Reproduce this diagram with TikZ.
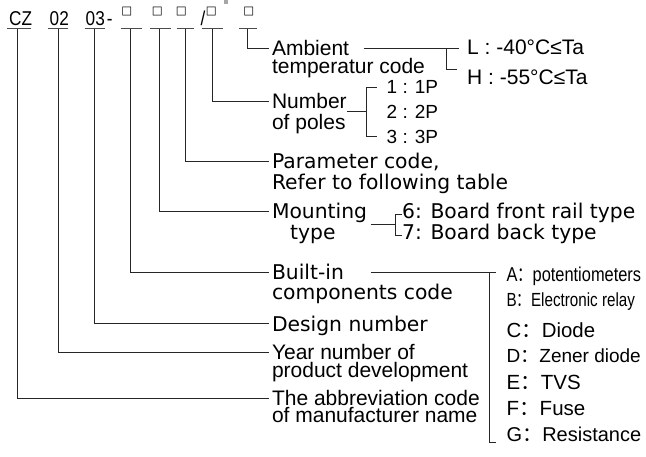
\documentclass[tikz,border=0pt]{standalone}
\usepackage{fontspec}
\usetikzlibrary{calc}
\setmainfont{Liberation Sans}
\newfontfamily\djv{DejaVu Sans}
\newfontfamily\narA[FakeStretch=0.82]{Liberation Sans}
\newfontfamily\narB[FakeStretch=0.80]{Liberation Sans}
\newfontfamily\codef[FakeStretch=0.86]{Liberation Sans}
\newfontfamily\cjk{Noto Sans CJK SC}
\newfontfamily\cjkn[FakeStretch=0.75]{Noto Sans CJK SC}
\tikzset{
  ln/.style={draw=black!85, line width=0.8bp},
  uline/.style={draw=black!70, line width=0.9bp},
  lblA/.style={font=\fontsize{21bp}{21bp}\selectfont, inner xsep=2.5bp, inner ysep=0pt,
    text height=15bp, text depth=0pt, anchor=base west},
  lblB/.style={font=\djv\fontsize{20.3bp}{20.3bp}\selectfont, inner xsep=2.5bp, inner ysep=0pt,
    text height=14.6bp, text depth=0pt, anchor=base west},
  pitem/.style={font=\fontsize{19bp}{19bp}\selectfont, inner sep=0pt,
    text height=13.6bp, text depth=0pt, anchor=base west},
  mitem/.style={font=\djv\fontsize{20.3bp}{20.3bp}\selectfont, inner sep=0pt,
    text height=9bp, text depth=0pt, anchor=base west},
  litem/.style={inner sep=0pt, text height=14bp, text depth=0pt, anchor=base west},
  codetxt/.style={font=\codef\fontsize{20bp}{20bp}\selectfont, inner sep=0pt, anchor=base west},
  sq/.style={font=\djv\fontsize{11.5bp}{11.5bp}\selectfont, inner sep=0pt, anchor=center},
}
\begin{document}
\begin{tikzpicture}[x=1bp,y=-1bp]
\useasboundingbox (0,0) rectangle (646,457);
\fill[gray!70] (224,0) rectangle (228,4.5);

% code row
\node[codetxt] (cz) at (9,26) {CZ};
\node[codetxt] (n02) at (49.5,26) {02};
\node[codetxt] (n03) at (85.5,26) {03\kern2bp-};
\node[sq] (s1) at (126.8,12) {□};
\node[sq] (s2) at (157.2,12) {□};
\node[sq] (s3) at (181.4,12) {□};
\node[codetxt] (sl) at (200.5,26) {/};
\node[sq] (s4) at (211.2,12) {□};
\node[sq] (s5) at (248.8,12) {□};

% underlines and stem tops
\draw[uline] (7,28.7) -- (30.7,28.7);
\draw[uline] (47.7,28.7) -- (68.3,28.7);
\draw[uline] (84.7,28.7) -- (105.3,28.7);
\draw[uline] (120.7,28.7) -- (141.7,28.7);
\draw[uline] (150,28.7) -- (170.7,28.7);
\draw[uline] (176.7,28.7) -- (194.3,28.7);
\draw[uline] (201.7,28.7) -- (223.3,28.7);
\draw[uline] (239.3,28.7) -- (256.7,28.7);
\coordinate (u1) at (17.4,28.7);
\coordinate (u2) at (58,28.7);
\coordinate (u3) at (94.5,28.7);
\coordinate (u4) at (130.7,28.7);
\coordinate (u5) at (159,28.7);
\coordinate (u6) at (185,28.7);
\coordinate (u7) at (212.3,28.7);
\coordinate (u8) at (247,28.7);

% labels
\node[lblA] (amb) at (269.3,56) {Ambient};
\node[lblA] (amb2) at (269.3,74) {temperatur code};
\node[lblA] (num) at (269.3,108.5) {Number};
\node[lblA] (num2) at (269.3,129.5) {of poles};
\node[lblB] (par) at (269.3,168.5) {Parameter code,};
\node[lblB] (par2) at (269.3,190) {Refer to following table};
\node[lblB] (mou) at (269.3,218.5) {Mounting};
\node[lblB] (mou2) at (287.5,240) {type};
\node[lblB] (bui) at (269.3,279.5) {Built-in};
\node[lblB] (bui2) at (269.3,300) {components code};
\node[lblB] (des) at (269.3,331) {Design number};
\node[lblA] (yea) at (269.3,359.5) {Year number of};
\node[lblA] (yea2) at (269.3,377) {product development};
\node[lblA] (abb) at (269.3,405.5) {The abbreviation code};
\node[lblA] (abb2) at (269.3,422.5) {of manufacturer name};

% stems
\draw[ln] (u8) |- (amb.west);
\draw[ln] (u7) |- (num.west);
\draw[ln] (u6) |- (par.west);
\draw[ln] (u5) |- (mou.west);
\draw[ln] (u4) |- (bui.west);
\draw[ln] (u3) |- (des.west);
\draw[ln] (u2) |- (yea.west);
\draw[ln] (u1) |- (abb.west);

% ambient temperature
\node[lblA] (tL) at (464.5,55) {L : -40°C≤Ta};
\node[lblA] (tH) at (464.5,85) {H : -55°C≤Ta};
\coordinate (bA) at (446.7,0);
\draw[ln] ([xshift=12bp]amb.east) -- ([xshift=-6bp]tL.west |- amb.east);
\draw[ln] (bA |- amb.east) |- ([xshift=-8bp]tH.north west);

% number of poles
\node[pitem] (p1) at (386.5,94) {1 : 1P};
\node[pitem] (p2) at (386.5,118.5) {2 : 2P};
\node[pitem] (p3) at (386.5,143.5) {3 : 3P};
\coordinate (bN) at (366.7,0);
\draw[ln] ([xshift=-2.5bp]num.east |- p2.west) -- (bN |- p2.west);
\draw[ln] ([xshift=-10bp]p1.west) -- (bN |- p1.west) -- (bN |- p3.west) -- ([xshift=-10bp]p3.west);

% mounting type
\node[mitem] (m6) at (402,218.5) {6: Board front rail type};
\node[mitem] (m7) at (402,240) {7: Board back type};
\coordinate (bM) at (395,0);
\coordinate (mJ) at ($(m6.west)!0.5!(m7.west)$);
\draw[ln] ([xshift=1bp]mou.east |- mJ) -- (bM |- mJ);
\draw[ln] (m6.west) -- (bM |- m6.west) -- (bM |- m7.west) -- (m7.west);

% built-in components
\node[litem, font=\narA\fontsize{20bp}{20bp}\selectfont] (lA) at (506.5,282) {A{\cjkn ：}potentiometers};
\node[litem, font=\narB\fontsize{19bp}{19bp}\selectfont] (lB) at (506.5,307) {B{\cjkn ：}Electronic relay};
\node[litem, font=\fontsize{20.4bp}{20.4bp}\selectfont] (lC) at (506.5,337) {C{\cjk ：}Diode};
\node[litem, font=\fontsize{19bp}{19bp}\selectfont] (lD) at (506.5,362) {D{\cjk ：}Zener diode};
\node[litem, font=\fontsize{20.5bp}{20.5bp}\selectfont] (lE) at (506.5,389.5) {E{\cjk ：}TVS};
\node[litem, font=\fontsize{20.5bp}{20.5bp}\selectfont] (lF) at (506.5,415) {F{\cjk ：}Fuse};
\node[litem, font=\fontsize{20bp}{20bp}\selectfont] (lG) at (506.5,441) {G{\cjk ：}Resistance};
\coordinate (bB) at (489.3,0);
\coordinate (gT) at ([xshift=-10.5bp,yshift=-1bp]lG.base west);
\draw[ln] ([xshift=24bp]bui.east) -- ([xshift=-10.5bp]lA.west |- bui.west);
\draw[ln] (bB |- bui.west) -- (bB |- gT) -- (gT);
\end{tikzpicture}
\end{document}
